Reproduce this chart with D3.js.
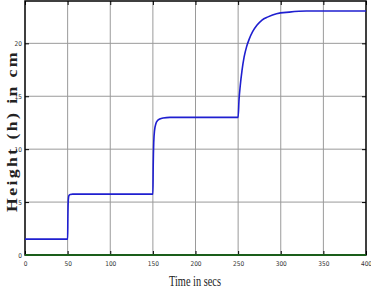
<!DOCTYPE html>
<html>
<head>
<meta charset="utf-8">
<script src="https://cdn.jsdelivr.net/npm/d3@7"></script>
<style>
  body { margin: 0; background: #fff; }
  svg { display: block; }
</style>
</head>
<body>
<div id="app"></div>
<script>
const full = { width: 371, height: 292 };
const margin = { top: 1, left: 25, right: 5, bottom: 37 };

// tank level response (time in secs, height in cm)
const timeSecs = [0, 50, 50.3, 50.8, 51.5, 53, 56, 150, 150.4, 151, 152, 153.5, 155.5, 158, 162, 170,
  250, 251, 252.5, 254.5, 257, 260, 263, 267, 272, 278, 285, 295, 310, 330, 400];
const heightCm = [1.5, 1.5, 3.6, 5.2, 5.6, 5.72, 5.75, 5.75, 8.5, 10.6, 11.8, 12.4, 12.7, 12.85, 12.95, 13,
  13, 14.6, 16.0, 17.4, 18.7, 19.7, 20.4, 21.1, 21.7, 22.2, 22.5, 22.8, 22.95, 23.05, 23.05];
const setpointZero = [[0, 0], [400, 0]];

const xTicks = [0, 50, 100, 150, 200, 250, 300, 350, 400];
const yTicks = [0, 5, 10, 15, 20];

const inner = {
  width: full.width - margin.left - margin.right,
  height: full.height - margin.top - margin.bottom
};

const svg = d3.select("#app").append("svg")
  .attr("width", full.width)
  .attr("height", full.height);

const g = svg.append("g").attr("transform", `translate(${margin.left},${margin.top})`);

const x = d3.scaleLinear().domain([0, 400]).range([0, inner.width]);
const y = d3.scaleLinear().domain([0, 24]).range([inner.height, 0]);

// grid
g.selectAll(".gx").data(xTicks.slice(1, -1)).join("line")
  .attr("x1", d => x(d)).attr("x2", d => x(d))
  .attr("y1", 0).attr("y2", inner.height)
  .attr("stroke", "#9a9a9a").attr("stroke-width", 1);
g.selectAll(".gy").data(yTicks.slice(1)).join("line")
  .attr("y1", d => y(d)).attr("y2", d => y(d))
  .attr("x1", 0).attr("x2", inner.width)
  .attr("stroke", "#9a9a9a").attr("stroke-width", 1);

// axes with inward ticks
const tickStyle = s => {
  s.select(".domain").remove();
  s.selectAll(".tick line").attr("stroke", "#000");
  s.selectAll(".tick text").attr("font-family", "'DejaVu Sans Condensed', 'Liberation Sans', sans-serif")
    .attr("font-size", 6.5).attr("fill", "#333");
};
g.append("g").attr("transform", `translate(0,${inner.height})`)
  .call(d3.axisBottom(x).tickValues(xTicks).tickSize(-4).tickPadding(6)).call(tickStyle);
g.append("g")
  .call(d3.axisLeft(y).tickValues(yTicks).tickSize(-4).tickPadding(3)).call(tickStyle);
g.append("g")
  .call(d3.axisTop(x).tickValues(xTicks).tickSize(-4).tickFormat("")).call(tickStyle);
g.append("g").attr("transform", `translate(${inner.width},0)`)
  .call(d3.axisRight(y).tickValues(yTicks).tickSize(-4).tickFormat("")).call(tickStyle);

// frame
g.append("rect").attr("width", inner.width).attr("height", inner.height)
  .attr("fill", "none").attr("stroke", "#000").attr("stroke-width", 1.5);

const line = d3.line().x(d => x(d[0])).y(d => y(d[1]));

g.append("path").datum(setpointZero)
  .attr("d", line).attr("fill", "none")
  .attr("stroke", "#1a5e1a").attr("stroke-width", 2);

g.append("path").datum(d3.zip(timeSecs, heightCm))
  .attr("d", line.curve(d3.curveMonotoneX)).attr("fill", "none")
  .attr("stroke", "#1f1fd0").attr("stroke-width", 1.6);

// labels
svg.append("text")
  .attr("x", 195).attr("y", 286)
  .attr("text-anchor", "middle")
  .attr("font-family", "'Liberation Serif', serif")
  .attr("font-size", 14)
  .attr("textLength", 52).attr("lengthAdjust", "spacingAndGlyphs")
  .attr("fill", "#222")
  .text("Time in secs");

svg.append("text")
  .attr("transform", "translate(17,131) rotate(-90)")
  .attr("text-anchor", "middle")
  .attr("font-family", "'Liberation Serif', serif")
  .attr("font-size", 15)
  .attr("font-weight", "bold")
  .attr("letter-spacing", 2)
  .attr("textLength", 162).attr("lengthAdjust", "spacingAndGlyphs")
  .attr("fill", "#222")
  .text("Height (h) in cm");
</script>
</body>
</html>
